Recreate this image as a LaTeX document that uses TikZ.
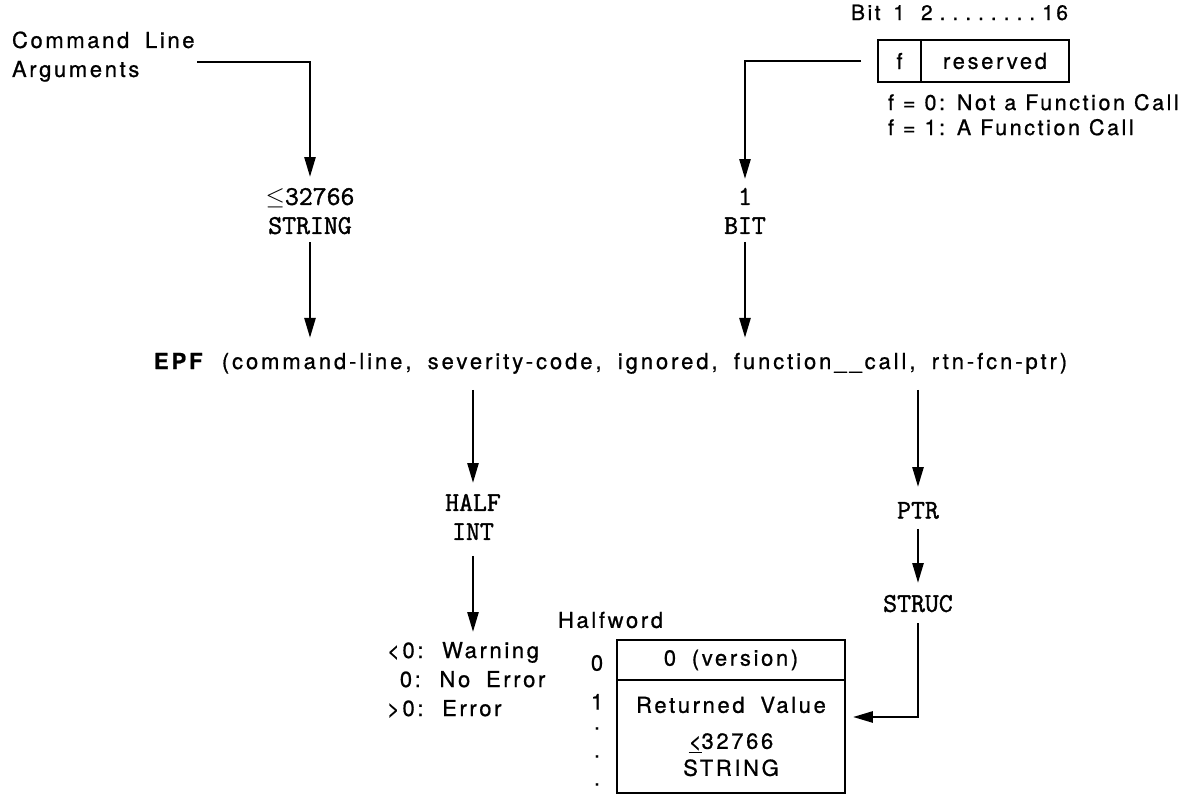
\documentclass[tikz,border=0pt]{standalone}
\usepackage{fontspec}
\setmainfont{TeX Gyre Heros}[LetterSpace=12, WordSpace=1.8, FakeBold=0.8]
\newfontfamily\monof{Latin Modern Mono}[FakeBold=1.5]
\newcommand\fdescsetup{\fontsize{21.5}{25}\selectfont\spaceskip=9pt plus 1pt\relax}
\usetikzlibrary{arrows.meta,calc}
\begin{document}
\begin{tikzpicture}[x=1pt,y=-1pt,
  lbl/.style={inner sep=0pt, outer sep=0pt},
  mono/.style={lbl, font=\monof\fontsize{27}{29}\selectfont, align=center},
  sans/.style={lbl, font=\fontsize{22}{29}\selectfont},
  small/.style={lbl, font=\fontsize{21}{25}\selectfont},
  cell/.style={draw, line width=1.8pt, inner sep=0pt, font=\fontsize{22}{29}\selectfont},
  arr/.style={line width=2.6pt, -{Triangle[length=20pt,width=11pt]}}]
\useasboundingbox (0,0) rectangle (1192,795);
% top-left
\node[sans, anchor=north west, align=left] (cmd) at (12,31.5) {Command Line\\Arguments};
\coordinate (c1) at (197,62);
\node[mono, anchor=north] (s1) at (310,188) {$\leq$32766\\STRING};
% top-right
\node[small, anchor=base west] (bitw) at (851,20) {Bit};
\node[small, anchor=base] (bit1) at (899,20) {1};
\node[small, anchor=base west] (bitr) at (921,20) {\makebox[147pt]{2\hfill.\hfill.\hfill.\hfill.\hfill.\hfill.\hfill.\hfill.\hfill16}};
\node[cell, minimum width=43pt, minimum height=42pt] (fcell) at (899.5,61) {f};
\node[cell, minimum width=148pt, minimum height=42pt] (rcell) at (995,61) {reserved};
\node[lbl, font=\fdescsetup, anchor=north west, align=left] (fdesc) at (888,94) {f = 0: Not a Function Call\\f = 1: A Function Call};
\node[mono, anchor=north] (bit) at (745,188) {1\\BIT};
% EPF line
\node[lbl, font=\fontsize{22}{29}\selectfont\addfontfeatures{LetterSpace=13.3}, anchor=base west] (epf) at (154,369) {\textbf{EPF} (command-line, severity-code, ignored, function\_\_call, rtn-fcn-ptr)};
% lower left
\node[mono, anchor=north] (half) at (473,494) {HALF\\INT};
\node[sans, anchor=north west, align=left] (warn) at (387,642) {<0: Warning\\\phantom{<}0: No Error\\>0: Error};
% lower right
\node[mono, anchor=north] (ptr) at (918,502) {PTR};
\node[mono, anchor=north] (struc) at (918,595) {STRUC};
\node[sans, anchor=west] (hw) at (558,620) {Halfword};
\node[cell, minimum width=228pt, minimum height=40pt] (ver) at (731,660) {0 (version)};
\node[cell, minimum width=228pt, minimum height=113pt, align=center] (rv) at (731,736.5) {Returned Value\\[7pt]\underline{<}32766\\[-2pt]STRING};
\node[sans] (r0) at (597,663) {0};
\node[sans, anchor=north, align=center, font=\fontsize{22}{28}\selectfont] (r1) at (597,694) {1\\[-8pt].\\.\\.};
% connectors
\draw[arr, shorten >=11pt] (c1) -| (s1.north);
\draw[arr, shorten <=8pt, shorten >=15pt] (s1.south) -- (s1.south |- epf.north);
\draw[arr, shorten <=16pt, shorten >=9pt] (fcell.west) -| (bit.north);
\draw[arr, shorten <=8pt, shorten >=15pt] (bit.south) -- (bit.south |- epf.north);
\draw[arr, shorten <=16pt, shorten >=11pt] (half.north |- epf.south) -- (half.north);
\draw[arr, shorten <=16pt, shorten >=10pt] (half.south) -- (half.south |- warn.north);
\draw[arr, shorten <=16pt, shorten >=15pt] (ptr.north |- epf.south) -- (ptr.north);
\draw[arr, shorten <=10pt, shorten >=12pt] (ptr.south) -- (struc.north);
\draw[arr, shorten <=11pt, shorten >=7pt] (struc.south) |- ($(rv.north east)!0.33!(rv.south east)$);
\end{tikzpicture}
\end{document}
